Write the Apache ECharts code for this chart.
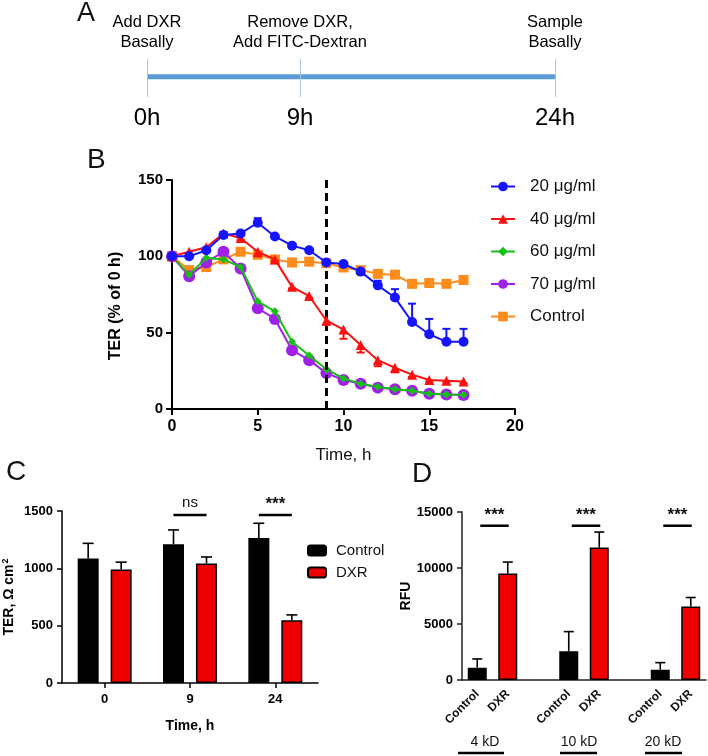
<!DOCTYPE html>
<html><head><meta charset="utf-8">
<script src="https://cdn.jsdelivr.net/npm/echarts@6/dist/echarts.min.js"></script>
<style>html,body{margin:0;padding:0;background:#fff}#c{width:708px;height:756px}</style>
</head><body><div id="c"></div>
<script>
// ---------------- data ----------------
// Panel A: protocol timeline
const eventHours = [0, 9, 24];
const eventTopLabels = ['Add DXR\nBasally', 'Remove DXR,\nAdd FITC-Dextran', 'Sample\nBasally'];
const eventHourLabels = ['0h', '9h', '24h'];

// Panel B: TER (% of 0 h) over time
const timeH = [0, 1, 2, 3, 4, 5, 6, 7, 8, 9, 10, 11, 12, 13, 14, 15, 16, 17];
const ter20 = [100, 100, 104, 114, 115, 122, 113, 107, 104, 96, 95, 90, 81, 73, 57, 49, 44, 44];
const err20 = [0, 0, 1, 2, 1, 3, 1, 1, 1, 1, 1, 1, 3, 5.5, 12, 10, 8.5, 8.5];
const ter40 = [100, 103, 106, 115, 112, 103, 98, 80, 74, 58, 52, 42, 32, 27, 22.5, 19, 18.5, 18];
const err40 = [0, 0, 1, 1, 1, 3, 1, 1, 1, 3, 6, 5, 4, 3, 1.5, 1, 1, 1];
const ter60 = [100, 88, 99, 98, 93, 70.5, 64, 44, 35, 26, 20, 16.5, 14.5, 13, 12, 10, 9.5, 9.3];
const ter70 = [100, 87, 96, 103, 92, 66, 59, 38.5, 32, 23.5, 19, 16.5, 14, 13, 12, 10, 9.5, 9.2];
const terCtrl = [100, 91, 93, 98, 103, 101, 98, 96, 96.5, 95.5, 92.7, 91, 88.5, 88, 82, 82.5, 82, 84.5];
const errCtrl = [0, 0, 0, 0, 0, 2, 0, 0, 0, 0, 0, 0, 0, 0, 1, 0, 0, 0];
const bXTicks = [0, 20, 5];      // min, max, step
const bYTicks = [0, 150, 50];

// Panel C: TER, Ohm cm2
const cCategories = ['0', '9', '24'];
const cControl = [1085, 1210, 1265];
const cControlSD = [133, 125, 128];
const cDXR = [990, 1043, 548];
const cDXRSD = [64, 56, 46];
const cSig = [null, 'ns', '***'];
const cSigLevel = 1466;

// Panel D: RFU
const dGroups = ['4 kD', '10 kD', '20 kD'];
const dBarLabels = ['Control', 'DXR'];
const dControl = [1100, 2570, 920];
const dControlSD = [780, 1750, 630];
const dDXR = [9510, 11830, 6560];
const dDXRSD = [1020, 1380, 805];
const dSig = ['***', '***', '***'];
const dSigLevel = 13775;

// ---------------- helpers ----------------
const FONT = 'Arial, "Liberation Sans", sans-serif';
const chart = echarts.init(document.getElementById('c'), null, {renderer: 'canvas'});
const plain = v => String(v);
const A_YMIN = -1.15, A_YMAX = 1;

function errBarSeries(xi, yi, data, color, dir, capHalf, lw, offsetPx, z) {
  return {
    type: 'custom', xAxisIndex: xi, yAxisIndex: yi, z: z, silent: true,
    encode: {x: 0, y: 1},
    data: data,
    renderItem: function (params, api) {
      const x = api.value(0), y = api.value(1), e = api.value(2);
      if (!e) return null;
      const lo = dir === 'up' ? y : y - e;
      const hi = dir === 'down' ? y : y + e;
      const pLo = api.coord([x, lo]), pHi = api.coord([x, hi]);
      const cx = pLo[0] + offsetPx;
      const st = {stroke: color, lineWidth: lw};
      const ch = [{type: 'line', shape: {x1: cx, y1: pLo[1], x2: cx, y2: pHi[1]}, style: st}];
      if (dir !== 'down') ch.push({type: 'line', shape: {x1: cx - capHalf, y1: pHi[1], x2: cx + capHalf, y2: pHi[1]}, style: st});
      if (dir !== 'up') ch.push({type: 'line', shape: {x1: cx - capHalf, y1: pLo[1], x2: cx + capHalf, y2: pLo[1]}, style: st});
      return {type: 'group', children: ch};
    }
  };
}

function sigText(t) {
  return t === 'ns' ? {fontSize: 15, fontWeight: 'normal'} : {fontSize: 17, fontWeight: 'bold'};
}

// ---------------- Panel B series ----------------
const bDefs = [
  {name: 'Control', data: terCtrl, err: errCtrl, dir: 'both', color: '#ff8c1a', symbol: 'rect', size: 10},
  {name: '70 μg/ml', data: ter70, err: null, dir: 'up', color: '#a020e8', symbol: 'circle', size: 12},
  {name: '60 μg/ml', data: ter60, err: null, dir: 'up', color: '#14c014', symbol: 'diamond', size: 8},
  {name: '40 μg/ml', data: ter40, err: err40, dir: 'down', color: '#ff1010', symbol: 'triangle', size: 10},
  {name: '20 μg/ml', data: ter20, err: err20, dir: 'up', color: '#1414ff', symbol: 'circle', size: 10}
];
const series = [];

// Panel A
series.push({
  type: 'line', xAxisIndex: 0, yAxisIndex: 0, silent: true, symbol: 'none', z: 3,
  data: [[eventHours[0], 0], [eventHours[eventHours.length - 1], 0]],
  lineStyle: {color: '#5b9bd5', width: 5},
  markLine: {
    silent: true, symbol: ['none', 'none'], label: {show: false},
    lineStyle: {color: '#a8c8e8', width: 1, type: 'solid'},
    data: eventHours.map(h => ({xAxis: h}))
  }
});
series.push({
  type: 'custom', xAxisIndex: 0, yAxisIndex: 0, silent: true, clip: false, encode: {x: 0, y: 1},
  data: eventHours.map(h => [h, 0]),
  renderItem: function (params, api) {
    const h = api.value(0);
    const pTop = api.coord([h, A_YMAX]), pBot = api.coord([h, A_YMIN]);
    const i = params.dataIndex;
    return {type: 'group', children: [
      {type: 'text', style: {text: eventTopLabels[i], x: pTop[0], y: pTop[1] - 7, align: 'center', verticalAlign: 'bottom',
        fontFamily: FONT, fontSize: 16.5, lineHeight: 20, fill: '#000'}},
      {type: 'text', style: {text: eventHourLabels[i], x: pBot[0], y: pBot[1] + 9, align: 'center', verticalAlign: 'top',
        fontFamily: FONT, fontSize: 24, fill: '#000'}}
    ]};
  }
});

// Panel B
bDefs.forEach((d, k) => {
  if (d.err) {
    series.push(errBarSeries(1, 1, timeH.map((t, i) => [t, d.data[i], d.err[i]]), d.color, d.dir, 4, 2, 0, 2 + k));
  }
  const s = {
    type: 'line', name: d.name, xAxisIndex: 1, yAxisIndex: 1, z: 2 + k,
    data: timeH.map((t, i) => [t, d.data[i]]),
    symbol: d.symbol, symbolSize: d.size,
    itemStyle: {color: d.color}, lineStyle: {color: d.color, width: 2}
  };
  if (k === 0) {
    s.markLine = {
      silent: true, symbol: ['none', 'none'], label: {show: false},
      lineStyle: {color: '#000', width: 3, type: [8, 5]},
      data: [{xAxis: eventHours[1]}]
    };
  }
  series.push(s);
});

// Panel C
const cOff = 16.5;
series.push({
  type: 'bar', name: 'Control ', xAxisIndex: 2, yAxisIndex: 2, data: cControl, barWidth: 21, barGap: '57%',
  itemStyle: {color: '#000', borderColor: '#000', borderWidth: 1.5}
});
series.push({
  type: 'bar', name: 'DXR ', xAxisIndex: 2, yAxisIndex: 2, data: cDXR, barWidth: 21, barGap: '57%',
  itemStyle: {color: '#ee0000', borderColor: '#000', borderWidth: 1.5}
});
series.push(errBarSeries(2, 2, cControl.map((v, i) => [i, v, cControlSD[i]]), '#000', 'up', 5.5, 1.6, -cOff, 1));
series.push(errBarSeries(2, 2, cDXR.map((v, i) => [i, v, cDXRSD[i]]), '#000', 'up', 5.5, 1.6, cOff, 1));
series.push({
  type: 'custom', xAxisIndex: 2, yAxisIndex: 2, silent: true, clip: false, encode: {x: 0, y: 1},
  data: cSig.map((s, i) => s ? [i, cSigLevel] : null).filter(v => v),
  renderItem: function (params, api) {
    const i = api.value(0);
    const p = api.coord([i, api.value(1)]);
    const t = cSig[i];
    const ts = sigText(t);
    return {type: 'group', children: [
      {type: 'line', shape: {x1: p[0] - cOff, y1: p[1], x2: p[0] + cOff, y2: p[1]}, style: {stroke: '#000', lineWidth: 2.5}},
      {type: 'text', style: {text: t, x: p[0], y: p[1] - (t === 'ns' ? 5 : 2), align: 'center', verticalAlign: 'bottom',
        fontFamily: FONT, fontSize: ts.fontSize, fontWeight: ts.fontWeight, fill: '#111'}}
    ]};
  }
});

// Panel D
const dCats = [];
dGroups.forEach((g, gi) => {
  dBarLabels.forEach(l => dCats.push(l));
  if (gi < dGroups.length - 1) dCats.push('');
});
const dCtrlData = dCats.map(() => null), dDxrData = dCats.map(() => null);
dGroups.forEach((g, gi) => { dCtrlData[gi * 3] = dControl[gi]; dDxrData[gi * 3 + 1] = dDXR[gi]; });
series.push({
  type: 'bar', name: 'D Control', xAxisIndex: 3, yAxisIndex: 3, data: dCtrlData, barWidth: 19, barGap: '-100%',
  itemStyle: {color: '#000', borderColor: '#000', borderWidth: 1.5}
});
series.push({
  type: 'bar', name: 'D DXR', xAxisIndex: 3, yAxisIndex: 3, data: dDxrData, barWidth: 19, barGap: '-100%',
  itemStyle: {color: '#ee0000', borderColor: '#000', borderWidth: 1.5}
});
series.push(errBarSeries(3, 3, dControl.map((v, g) => [g * 3, v, dControlSD[g]]), '#000', 'up', 5, 1.6, 0, 1));
series.push(errBarSeries(3, 3, dDXR.map((v, g) => [g * 3 + 1, v, dDXRSD[g]]), '#000', 'up', 5, 1.6, 0, 1));
series.push({
  type: 'custom', xAxisIndex: 3, yAxisIndex: 3, silent: true, clip: false, encode: {x: 0, y: 1},
  data: dSig.map((s, g) => [g * 3, dSigLevel, g * 3 + 1]),
  renderItem: function (params, api) {
    const p1 = api.coord([api.value(0), api.value(1)]);
    const p2 = api.coord([api.value(2), api.value(1)]);
    const t = dSig[params.dataIndex];
    const ts = sigText(t);
    return {type: 'group', children: [
      {type: 'line', shape: {x1: p1[0] + 3, y1: p1[1], x2: p2[0] + 1, y2: p1[1]}, style: {stroke: '#000', lineWidth: 2.5}},
      {type: 'text', style: {text: t, x: (p1[0] + p2[0]) / 2 + 2, y: p1[1] - 2, align: 'center', verticalAlign: 'bottom',
        fontFamily: FONT, fontSize: ts.fontSize, fontWeight: ts.fontWeight, fill: '#111'}}
    ]};
  }
});

// ---------------- axes ----------------
const blackAxis = (w) => ({show: true, onZero: false, lineStyle: {color: '#000', width: w}});
const option = {
  animation: false,
  backgroundColor: '#fff',
  textStyle: {fontFamily: FONT},
  grid: [
    {left: 147, top: 59, width: 408, height: 38},
    {left: 172, top: 180, width: 343, height: 229},
    {left: 60, top: 511, width: 258, height: 172},
    {left: 462, top: 512, width: 244, height: 168}
  ],
  xAxis: [
    {gridIndex: 0, type: 'value', min: 0, max: 24, show: false},
    {gridIndex: 1, type: 'value', min: bXTicks[0], max: bXTicks[1], interval: bXTicks[2],
      axisLine: blackAxis(2), axisTick: {show: true, length: 6, lineStyle: {color: '#000', width: 2}},
      axisLabel: {fontSize: 16, fontWeight: 'bold', color: '#000', margin: 10, fontFamily: FONT, formatter: plain},
      splitLine: {show: false},
      name: 'Time, h', nameLocation: 'middle', nameGap: 38,
      nameTextStyle: {fontSize: 17, color: '#111', fontFamily: FONT}},
    {gridIndex: 2, type: 'category', data: cCategories,
      axisLine: blackAxis(1.5), axisTick: {show: true, alignWithLabel: true, length: 5, lineStyle: {color: '#000', width: 1.5}},
      axisLabel: {fontSize: 13, fontWeight: 'bold', color: '#000', margin: 10, fontFamily: FONT},
      name: 'Time, h', nameLocation: 'middle', nameGap: 36,
      nameTextStyle: {fontSize: 14, fontWeight: 'bold', color: '#000', fontFamily: FONT}},
    {gridIndex: 3, type: 'category', data: dCats,
      axisLine: {show: true, onZero: false, lineStyle: {color: '#222', width: 1.5}}, axisTick: {show: false},
      axisLabel: {rotate: 45, interval: 0, fontSize: 12, fontWeight: 'bold', color: '#111', margin: 12, fontFamily: FONT}}
  ],
  yAxis: [
    {gridIndex: 0, type: 'value', min: A_YMIN, max: A_YMAX, show: false},
    {gridIndex: 1, type: 'value', min: bYTicks[0], max: bYTicks[1], interval: bYTicks[2],
      axisLine: blackAxis(2), axisTick: {show: true, length: 6, lineStyle: {color: '#000', width: 2}},
      axisLabel: {fontSize: 15, fontWeight: 'bold', color: '#000', margin: 9, fontFamily: FONT, formatter: plain},
      splitLine: {show: false},
      name: 'TER (% of 0 h)', nameLocation: 'middle', nameGap: 48,
      nameTextStyle: {fontSize: 16, fontWeight: 'bold', color: '#000', fontFamily: FONT, padding: [0, 23, 0, 0]}},
    {gridIndex: 2, type: 'value', min: 0, max: 1500, interval: 500,
      axisLine: blackAxis(1.5), axisTick: {show: true, length: 5, lineStyle: {color: '#000', width: 1.5}},
      axisLabel: {fontSize: 13, fontWeight: 'bold', color: '#000', margin: 9, fontFamily: FONT, formatter: plain},
      splitLine: {show: false},
      name: 'TER, Ω cm{sup|2}', nameLocation: 'middle', nameGap: 44,
      nameTextStyle: {fontSize: 14, fontWeight: 'bold', color: '#000', fontFamily: FONT,
        rich: {sup: {fontSize: 9, fontWeight: 'bold', verticalAlign: 'top', padding: [0, 0, 8, 1]}}}},
    {gridIndex: 3, type: 'value', min: 0, max: 15000, interval: 5000,
      axisLine: {show: true, onZero: false, lineStyle: {color: '#222', width: 1.5}},
      axisTick: {show: true, length: 5, lineStyle: {color: '#222', width: 1.5}},
      axisLabel: {fontSize: 13, fontWeight: 'bold', color: '#000', margin: 9, fontFamily: FONT, formatter: plain},
      splitLine: {show: false},
      name: 'RFU', nameLocation: 'middle', nameGap: 47,
      nameTextStyle: {fontSize: 14, fontWeight: 'bold', color: '#000', fontFamily: FONT}}
  ],
  legend: [
    {data: ['20 μg/ml', '40 μg/ml', '60 μg/ml', '70 μg/ml', 'Control'], orient: 'vertical',
      left: 490, top: 178, itemWidth: 24, itemHeight: 12, itemGap: 15.5, padding: 0, selectedMode: false,
      textStyle: {fontSize: 17, color: '#111', fontFamily: FONT, padding: [0, 0, 0, 10]}},
    {data: ['Control ', 'DXR '], orient: 'vertical', left: 307, top: 543, itemWidth: 18, itemHeight: 10,
      itemGap: 7, padding: 0, selectedMode: false,
      textStyle: {fontSize: 15, color: '#111', fontFamily: FONT, padding: [0, 0, 0, 5]}}
  ],
  graphic: [
    {type: 'text', left: 77, top: 0, style: {text: 'A', fontSize: 27, fontFamily: FONT, fill: '#111'}},
    {type: 'text', left: 87, top: 146, style: {text: 'B', fontSize: 28, fontFamily: FONT, fill: '#111'}},
    {type: 'text', left: 6, top: 458, style: {text: 'C', fontSize: 28, fontFamily: FONT, fill: '#111'}},
    {type: 'text', left: 412, top: 460, style: {text: 'D', fontSize: 28, fontFamily: FONT, fill: '#111'}}
  ].concat(dGroups.map((g, gi) => ({
    type: 'text', x: [485, 579, 663][gi], y: 742,
    style: {text: g, fontSize: 14, fontFamily: FONT, fill: '#111', align: 'center', verticalAlign: 'middle'}
  }))).concat(dGroups.map((g, gi) => ({
    type: 'line', shape: {x1: [458, 560, 645][gi], y1: 753, x2: [504, 597, 682][gi], y2: 753},
    style: {stroke: '#000', lineWidth: 2.5}
  }))),
  series: series
};
chart.setOption(option);
</script>
</body></html>
